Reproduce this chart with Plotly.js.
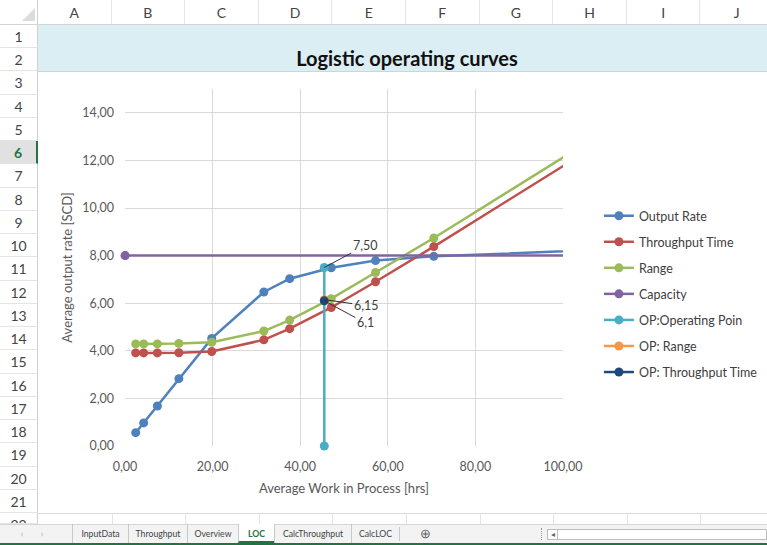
<!DOCTYPE html>
<html><head><meta charset="utf-8">
<script src="https://cdn.plot.ly/plotly-3.0.1.min.js"></script>
<style>
body{margin:0;width:767px;height:545px;overflow:hidden;position:relative;background:#fff;font-family:Lato,"Noto Sans",sans-serif;}
.a{position:absolute;box-sizing:border-box;}
.colh{top:0;height:25px;line-height:25px;text-align:center;color:#444;font-size:14px;border-right:1px solid #E4E4E4;}
.rowh{left:0;width:38px;text-align:center;color:#444;font-size:14px;border-bottom:1px solid #E4E4E4;border-right:1px solid #D0D0D0;overflow:hidden;}
.tab{top:524px;height:19px;line-height:19px;font-size:8.7px;color:#444;text-align:center;}
</style></head>
<body>
<div id="chrome"></div>
<div id="chart" class="a" style="left:38px;top:72px;width:780px;height:442px;"></div>
<script>
// ---- spreadsheet chrome labels ----
const colLetters = ["A","B","C","D","E","F","G","H","I","J"];
const rowNumbers = [1,2,3,4,5,6,7,8,9,10,11,12,13,14,15,16,17,18,19,20,21,22];
const sheetTabs = ["InputData","Throughput","Overview","LOC","CalcThroughput","CalcLOC"];
const sheetTitle = "Logistic operating curves";

// ---- chart data ----
const wip            = [2.44, 4.26, 7.39, 12.3, 19.8, 31.7, 37.6, 47.1, 57.2, 70.5, 120];
const outputRate     = [0.56, 0.97, 1.68, 2.83, 4.52, 6.47, 7.03, 7.49, 7.79, 7.97, 8.32];
const throughputTime = [3.91, 3.91, 3.91, 3.92, 3.97, 4.46, 4.93, 5.82, 6.90, 8.38, 14.05];
const rangeVals      = [4.29, 4.29, 4.29, 4.31, 4.36, 4.83, 5.29, 6.19, 7.29, 8.74, 14.41];
const capacityX      = [0, 200];
const capacityY      = [8, 8];
const opX            = [45.5, 45.5];
const opY            = [0, 7.5];
const opRangeX       = [45.5];
const opRangeY       = [6.15];
const opTptX         = [45.5];
const opTptY         = [6.1];
const opLabels       = ["7,50", "6,15", "6,1"];
const seriesNames    = ["Output Rate","Throughput Time","Range","Capacity","OP:Operating Poin","OP: Range","OP: Throughput Time"];

// ---- build chrome ----
const ch = document.getElementById('chrome');
function el(cls, style, text){const d=document.createElement('div');d.className='a '+cls;d.setAttribute('style',style);if(text!==undefined)d.textContent=text;ch.appendChild(d);return d;}
const colW = 73.6, colX0 = 38, rowH = 23.24, rowY0 = 25;
// corner
el('', 'left:0;top:0;width:38px;height:25px;border-right:1px solid #D0D0D0;border-bottom:1px solid #D0D0D0;');
el('', 'left:22px;top:8px;width:0;height:0;border-left:13px solid transparent;border-bottom:13px solid #DCDCDC;');
colLetters.forEach((c,i)=>{el('colh','left:'+(colX0+i*colW)+'px;width:'+colW+'px;',c);});
el('', 'left:0;top:24px;width:767px;height:1px;background:#D4D4D4;');
// title band
el('', 'left:38px;top:25px;width:729px;height:47px;background:#DAEEF3;border-bottom:1px solid #C9D6DB;');
el('', 'left:38px;top:25px;width:729px;height:47px;line-height:66px;padding-left:9px;text-align:center;font-weight:bold;font-size:20px;color:#111;', sheetTitle);
rowNumbers.forEach((r,i)=>{
  const top = rowY0 + i*rowH;
  const sel = (r===6);
  const h = (r===22) ? (524-top) : rowH;
  el('rowh','top:'+top+'px;height:'+h+'px;line-height:'+(rowH+1)+'px;'+(sel?'background:#E1E1E1;color:#217346;font-weight:bold;border-right:2px solid #217346;':''), String(r));
});
// row 22 grid
el('', 'left:38px;top:513px;width:729px;height:1px;background:#DADADA;');
colLetters.forEach((c,i)=>{el('', 'left:'+(colX0+(i+1)*colW)+'px;top:513px;width:1px;height:11px;background:#E4E4E4;');});
// tab bar
el('', 'left:0;top:524px;width:767px;height:19px;background:#F3F3F3;border-top:1px solid #D6D6D6;');
el('', 'left:0;top:543px;width:767px;height:2px;background:#217346;');
el('tab','left:15px;width:14px;color:#AAA;','\u2039');
el('tab','left:35px;width:14px;color:#AAA;','\u203A');
const tabEdges = [72,128,187,238,274,351,399];
sheetTabs.forEach((t,i)=>{
  const l=tabEdges[i], w=tabEdges[i+1]-tabEdges[i];
  const act = (t==="LOC");
  el('tab','left:'+l+'px;width:'+w+'px;border-left:1px solid #C8C8C8;'+(act?'background:#fff;color:#217346;font-weight:bold;border-bottom:2px solid #217346;':''), t);
});
el('', 'left:399px;top:527px;width:1px;height:14px;background:#C8C8C8;');
el('tab','left:416px;width:18px;font-size:13px;color:#666;','\u2295');
el('', 'left:541px;top:528px;width:1px;height:12px;border-left:1px dotted #999;');
el('', 'left:547px;top:529px;width:220px;height:11px;background:#fff;border:1px solid #BDBDBD;');
el('', 'left:547px;top:529px;width:11px;height:11px;border:1px solid #BDBDBD;font-size:8px;line-height:9px;text-align:center;color:#666;','\u25C2');

// ---- plot ----
const colors = ["#4F81BD","#C0504D","#9BBB59","#8064A2","#4BACC6","#F79646","#1F497D"];
function tr(x,y,i,extra){
  return Object.assign({type:'scatter',mode:'lines+markers',x:x,y:y,name:seriesNames[i],legendgroup:'g'+i,
    line:{color:colors[i],width:2.5},marker:{color:colors[i],size:9},hoverinfo:'skip'},extra||{});
}
const data = [
  tr(wip,outputRate,0),
  tr(wip,throughputTime,1),
  tr(wip,rangeVals,2),
  tr(capacityX,capacityY,3),
  // full (unclipped) capacity marker at the first point on the axis
  {type:'scatter',mode:'markers',x:[capacityX[0]],y:[capacityY[0]],showlegend:false,cliponaxis:false,
    marker:{color:colors[3],size:9},hoverinfo:'skip'},
  tr(opX,opY,4,{cliponaxis:false}),
  tr(opRangeX,opRangeY,5,{cliponaxis:false}),
  tr(opTptX,opTptY,6,{cliponaxis:false})
];
const annFont = {family:'Lato, sans-serif',size:12.5,color:'#404040'};
function ann(x,y,txt,ax,ay){return {x:x,y:y,xref:'x',yref:'y',text:txt,showarrow:true,arrowhead:0,arrowwidth:1,arrowcolor:'#333',ax:ax,ay:ay,standoff:0,font:annFont};}
const layout = {
  width:780,height:442,
  margin:{l:87,r:255,t:17,b:68,pad:0},
  paper_bgcolor:'rgba(0,0,0,0)',plot_bgcolor:'#fff',
  separators:',.',
  font:{family:'Lato, sans-serif',color:'#595959',size:12},
  showlegend:true,
  legend:{x:1.082,xanchor:'left',y:0.686,yanchor:'top',traceorder:'grouped',tracegroupgap:6.8,
    font:{family:'Lato, sans-serif',size:12.5,color:'#404040'},bgcolor:'rgba(0,0,0,0)',itemclick:false},
  xaxis:{range:[0,100],dtick:20,tick0:0,tickformat:'.2f',showgrid:true,gridcolor:'#D9D9D9',gridwidth:1,
    zeroline:false,showline:false,ticks:'',ticklabelstandoff:11,tickfont:{size:12.5,color:'#595959'},fixedrange:true,automargin:false,
    title:{text:'Average Work in Process [hrs]',font:{size:13,color:'#595959'},standoff:11}},
  yaxis:{range:[0,15],dtick:2,tick0:0,tickformat:'.2f',showgrid:true,gridcolor:'#D9D9D9',gridwidth:1,
    zeroline:false,showline:false,ticks:'',ticklabelstandoff:10,tickfont:{size:12.5,color:'#595959'},fixedrange:true,automargin:false,
    title:{text:'Average output rate [SCD]',font:{size:13,color:'#595959'},standoff:6}},
  annotations:[
    ann(opX[1],opY[1],opLabels[0],41,-22),
    ann(opRangeX[0],opRangeY[0],opLabels[1],42,6),
    ann(opTptX[0],opTptY[0],opLabels[2],41,22)
  ]
};
Plotly.newPlot('chart',data,layout,{displayModeBar:false,staticPlot:true});
</script>
</body></html>
